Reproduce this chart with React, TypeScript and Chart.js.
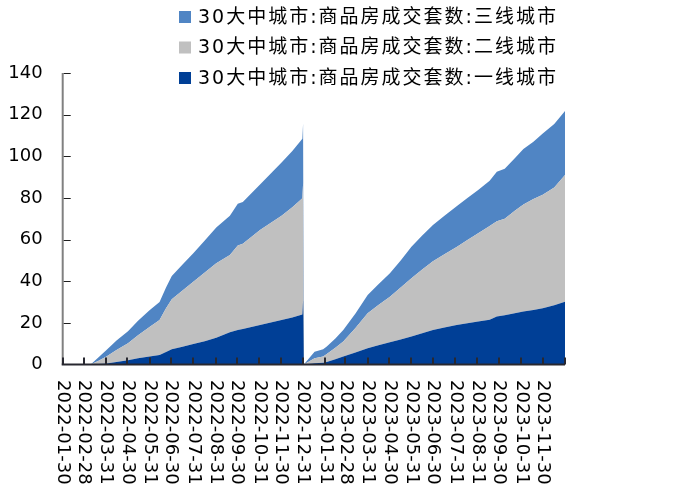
import { useEffect, useRef } from "react";
import { Chart, registerables } from "chart.js";

Chart.register(...registerables);

// ---- data ----
const dates = [
  "2022-01-30", "2022-03-10", "2022-03-21", "2022-04-01", "2022-04-15", "2022-05-01",
  "2022-05-15", "2022-05-31", "2022-06-14", "2022-06-23", "2022-07-01", "2022-07-16",
  "2022-07-31", "2022-08-16", "2022-09-01", "2022-09-20", "2022-10-01", "2022-10-08",
  "2022-11-01", "2022-12-01", "2022-12-16", "2022-12-30", "2022-12-31",
  "2023-01-01", "2023-01-16", "2023-01-28", "2023-02-02", "2023-02-14", "2023-02-25",
  "2023-03-14", "2023-03-31", "2023-04-15", "2023-05-01", "2023-05-16", "2023-05-31",
  "2023-06-15", "2023-06-30", "2023-07-16", "2023-08-02", "2023-08-17", "2023-09-01",
  "2023-09-17", "2023-09-27", "2023-10-08", "2023-10-22", "2023-11-03", "2023-11-17",
  "2023-11-30", "2023-12-16", "2023-12-31",
];

// 一线城市
const tier1 = [
  0, 0, 0.2, 0.5, 1.2, 2.0, 3.0, 3.8, 4.6, 6.0, 7.3, 8.5,
  9.8, 11.2, 12.8, 15.5, 16.6, 17.0, 19.0, 21.4, 22.6, 24.0, 30.8,
  0, 0.6, 0.9, 1.2, 2.5, 3.8, 5.8, 7.8, 9.2, 10.7, 12.0, 13.4,
  15.0, 16.6, 17.8, 19.0, 19.8, 20.6, 21.5, 23.0, 23.6, 24.6, 25.5, 26.2,
  27.0, 28.5, 30.1,
];

// 二线城市
const tier2 = [
  0, 0, 1.6, 3.3, 5.8, 8.2, 11.0, 14.2, 16.8, 21.0, 24.0, 27.0,
  30.0, 33.0, 35.8, 37.1, 40.6, 41.0, 45.6, 50.0, 52.9, 55.8, 56.2,
  0, 2.4, 2.9, 3.8, 5.5, 7.2, 11.7, 16.8, 19.4, 21.8, 25.0, 28.0,
  30.6, 33.0, 35.2, 37.4, 40.0, 42.4, 45.0, 45.8, 46.4, 49.2, 51.3, 53.3,
  54.5, 56.5, 60.9,
];

// 三线城市
const tier3 = [
  0, 0, 1.7, 3.2, 4.5, 5.8, 7.0, 8.0, 8.6, 10.0, 11.2, 12.5,
  13.6, 15.3, 17.2, 18.8, 20.0, 20.0, 21.9, 25.6, 27.0, 28.6, 28.8,
  0, 3.1, 3.5, 3.6, 4.5, 5.6, 7.0, 8.8, 9.9, 11.3, 13.0, 15.2,
  16.4, 17.4, 18.5, 19.6, 20.2, 20.8, 21.7, 23.8, 24.0, 25.2, 26.7, 27.5,
  29.5, 30.5, 30.8,
];

const seriesNames = [
  "30大中城市:商品房成交套数:一线城市",
  "30大中城市:商品房成交套数:二线城市",
  "30大中城市:商品房成交套数:三线城市",
];

const tickLabels = [
  "2022-01-30", "2022-02-28", "2022-03-31", "2022-04-30", "2022-05-31", "2022-06-30",
  "2022-07-31", "2022-08-31", "2022-09-30", "2022-10-31", "2022-11-30", "2022-12-31",
  "2023-01-31", "2023-02-28", "2023-03-31", "2023-04-30", "2023-05-31", "2023-06-30",
  "2023-07-31", "2023-08-31", "2023-09-30", "2023-10-31", "2023-11-30",
];
const axisEndDate = "2023-12-31";

const colors = ["#003F96", "#C0C0C0", "#5085C4"];

const ORIGIN = Date.UTC(2022, 0, 30);
const dayOf = (s: string) => {
  const [y, m, d] = s.split("-").map(Number);
  return Math.round((Date.UTC(y, m - 1, d) - ORIGIN) / 86400000);
};

const LATIN = '"DejaVu Sans", "Noto Sans CJK SC", sans-serif';

const overlayPlugin = {
  id: "overlay",
  afterDraw(chart: any) {
    const { ctx, chartArea } = chart;
    const xs = chart.scales.x;
    const ys = chart.scales.y;
    const bottom = Math.round(chartArea.bottom);
    ctx.save();

    // rotated x labels (top-to-bottom)
    ctx.fillStyle = "#000";
    ctx.font = `18px ${LATIN}`;
    ctx.textAlign = "left";
    ctx.textBaseline = "middle";
    tickLabels.forEach((lab) => {
      const px = xs.getPixelForValue(dayOf(lab));
      ctx.save();
      ctx.translate(px, bottom + 15);
      ctx.rotate(Math.PI / 2);
      ctx.fillText(lab, 0, 0);
      ctx.restore();
    });

    // legend (reverse order: 三线, 二线, 一线)
    ctx.save();
    const rows = [2, 1, 0];
    ctx.font = `19px ${LATIN}`;
    ctx.textBaseline = "middle";
    (ctx as any).letterSpacing = "2px";
    rows.forEach((di, r) => {
      const cy = 17 + r * 30.5;
      ctx.fillStyle = colors[di];
      ctx.fillRect(179, cy - 6, 12, 12);
      ctx.fillStyle = "#000";
      ctx.fillText(seriesNames[di], 198, cy + 1);
    });
    ctx.restore();

    // y axis line + inward ticks
    ctx.fillStyle = "rgb(128,128,128)";
    ctx.fillRect(chartArea.left - 1, chartArea.top, 2, chartArea.bottom - chartArea.top);
    ctx.fillStyle = "rgb(30,30,30)";
    ys.ticks.forEach((t: any) => {
      if (t.value === 0) return;
      const py = Math.round(ys.getPixelForValue(t.value));
      ctx.fillRect(chartArea.left + 1, py, 7, 1);
    });

    // x axis line + inward ticks
    ctx.fillStyle = "rgb(40,40,48)";
    const right = xs.getPixelForValue(xs.max);
    ctx.fillRect(chartArea.left - 1, chartArea.bottom - 1, right - chartArea.left + 1, 2);
    [...tickLabels, axisEndDate].map(dayOf).forEach((d) => {
      const px = Math.round(xs.getPixelForValue(d));
      ctx.fillRect(px - 1, chartArea.bottom - 7, 2, 7);
    });

    ctx.restore();
  },
};

export default function App() {
  const ref = useRef<HTMLCanvasElement | null>(null);
  useEffect(() => {
    if (!ref.current) return;
    const series = [tier1, tier2, tier3];
    const chart = new Chart(ref.current, {
      type: "line",
      data: {
        datasets: series.map((vals, i) => ({
          label: seriesNames[i],
          data: dates.map((d, j) => ({ x: dayOf(d), y: vals[j] })),
          backgroundColor: colors[i],
          borderColor: colors[i],
          borderWidth: 0,
          pointRadius: 0,
          tension: 0,
          fill: i === 0 ? "origin" : "-1",
        })),
      },
      options: {
        animation: false,
        responsive: true,
        maintainAspectRatio: false,
        layout: { padding: { left: 0, top: 73, right: 108, bottom: 0 } },
        plugins: { legend: { display: false }, tooltip: { enabled: false } },
        scales: {
          x: {
            type: "linear",
            min: 0,
            max: dayOf(axisEndDate),
            ticks: { display: false },
            grid: { display: false, drawTicks: false },
            border: { display: false },
            afterFit: (s: any) => {
              s.height = 126.5;
            },
          },
          y: {
            stacked: true,
            min: 0,
            max: 140,
            ticks: {
              stepSize: 20,
              padding: 20,
              color: "#000",
              font: { family: LATIN, size: 18 },
            },
            grid: { display: false, drawTicks: false },
            border: { display: false },
            afterFit: (s: any) => {
              s.width = 62.7;
            },
          },
        },
      },
      plugins: [overlayPlugin],
    });
    return () => chart.destroy();
  }, []);
  return (
    <div style={{ position: "fixed", left: 0, top: 0, width: 673, height: 491, background: "#fff" }}>
      <canvas ref={ref} />
    </div>
  );
}
